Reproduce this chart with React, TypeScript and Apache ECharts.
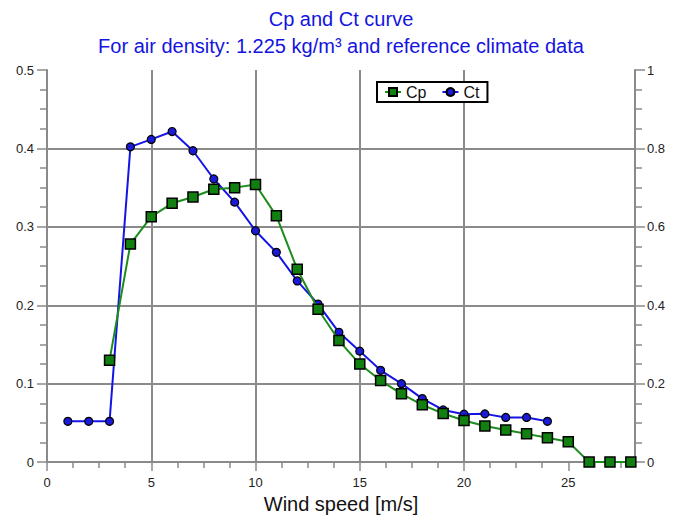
import React, { useEffect, useRef } from "react";
import * as echarts from "echarts";

const windSpeeds = [1, 2, 3, 4, 5, 6, 7, 8, 9, 10, 11, 12, 13, 14, 15, 16, 17, 18, 19, 20, 21, 22, 23, 24, 25, 26, 27, 28];
const cpValues = [null, null, 0.13, 0.278, 0.313, 0.330, 0.338, 0.348, 0.350, 0.354, 0.314, 0.246, 0.195, 0.155, 0.125, 0.104, 0.087, 0.073, 0.062, 0.053, 0.046, 0.041, 0.036, 0.031, 0.026, 0, 0, 0];
const ctValues = [0.104, 0.104, 0.104, 0.804, 0.823, 0.843, 0.794, 0.722, 0.663, 0.590, 0.535, 0.462, 0.403, 0.331, 0.283, 0.234, 0.200, 0.162, 0.133, 0.122, 0.123, 0.114, 0.114, 0.104, null, null, null, null];
const xTicks = [0, 5, 10, 15, 20, 25];

const FONT = "'Liberation Sans', Arial, sans-serif";
const GRID = "#8a8a8a";

export default function App() {
  const ref = useRef<HTMLDivElement>(null);
  useEffect(() => {
    document.body.style.margin = "0";
    const chart = echarts.init(ref.current!, null, { renderer: "svg" });
    const cpData = windSpeeds.map((x, i) => [x, cpValues[i]]).filter((d) => d[1] !== null);
    const ctData = windSpeeds.map((x, i) => [x, ctValues[i]]).filter((d) => d[1] !== null);
    chart.setOption({
      animation: false,
      backgroundColor: "#fff",
      textStyle: { fontFamily: FONT },
      title: {
        text: "Cp and Ct curve\nFor air density: 1.225 kg/m³ and reference climate data",
        left: "center",
        top: 0,
        padding: [5, 5, 5, 5],
        textStyle: { color: "#1414e0", fontSize: 20, fontWeight: "normal", fontFamily: FONT, lineHeight: 27 },
      },
      legend: {
        left: 377,
        top: 82,
        orient: "horizontal",
        backgroundColor: "#fff",
        borderColor: "#000",
        borderWidth: 2,
        borderRadius: 0,
        padding: [2, 8, 2, 7],
        itemGap: 15,
        itemWidth: 16,
        itemHeight: 10,
        textStyle: { fontSize: 16, color: "#111", fontFamily: FONT },
        data: ["Cp", "Ct"],
      },
      grid: { left: 47, right: 47, top: 70, bottom: 53, containLabel: false },
      xAxis: {
        type: "value",
        min: 0,
        max: 28.2,
        interval: 5,
        name: "Wind speed [m/s]",
        nameLocation: "middle",
        nameGap: 31,
        nameTextStyle: { fontSize: 20, color: "#111", fontFamily: FONT },
        axisLine: { show: true, onZero: false, lineStyle: { color: GRID, width: 2 } },
        axisTick: { show: true, length: 9, lineStyle: { color: GRID, width: 1.5 }, customValues: xTicks },
        minorTick: { show: true, splitNumber: 4, length: 6, lineStyle: { color: GRID, width: 1.5 } },
        axisLabel: { color: "#222", fontSize: 13, margin: 14, fontFamily: FONT, customValues: xTicks },
        splitLine: { show: true, showMinLine: false, showMaxLine: false, lineStyle: { color: GRID, width: 2 } },
      },
      yAxis: [
        {
          type: "value",
          min: 0,
          max: 0.5,
          interval: 0.1,
          position: "left",
          axisLine: { show: true, lineStyle: { color: GRID, width: 2 } },
          axisTick: { show: true, length: 10, lineStyle: { color: GRID, width: 1.5 } },
          minorTick: { show: true, splitNumber: 4, length: 7, lineStyle: { color: GRID, width: 1.5 } },
          axisLabel: { color: "#222", fontSize: 13, margin: 13, fontFamily: FONT },
          splitLine: { show: true, showMinLine: false, showMaxLine: false, lineStyle: { color: GRID, width: 2 } },
        },
        {
          type: "value",
          min: 0,
          max: 1,
          interval: 0.2,
          position: "right",
          axisLine: { show: true, lineStyle: { color: GRID, width: 2 } },
          axisTick: { show: true, length: 10, lineStyle: { color: GRID, width: 1.5 } },
          minorTick: { show: true, splitNumber: 4, length: 7, lineStyle: { color: GRID, width: 1.5 } },
          axisLabel: { color: "#222", fontSize: 13, margin: 12, fontFamily: FONT },
          splitLine: { show: false },
        },
      ],
      series: [
        {
          name: "Ct",
          type: "line",
          yAxisIndex: 1,
          data: ctData,
          symbol: "circle",
          symbolSize: 8,
          z: 3,
          lineStyle: { color: "#1414e6", width: 2 },
          itemStyle: { color: "#1a1ad8", borderColor: "#000", borderWidth: 1.2 },
        },
        {
          name: "Cp",
          type: "line",
          yAxisIndex: 0,
          data: cpData,
          symbol: "rect",
          symbolSize: 10,
          z: 4,
          lineStyle: { color: "#1c8c1c", width: 2 },
          itemStyle: { color: "#118011", borderColor: "#000", borderWidth: 1.5 },
        },
      ],
    });
    return () => chart.dispose();
  }, []);
  return <div ref={ref} style={{ width: 682, height: 519 }} />;
}
